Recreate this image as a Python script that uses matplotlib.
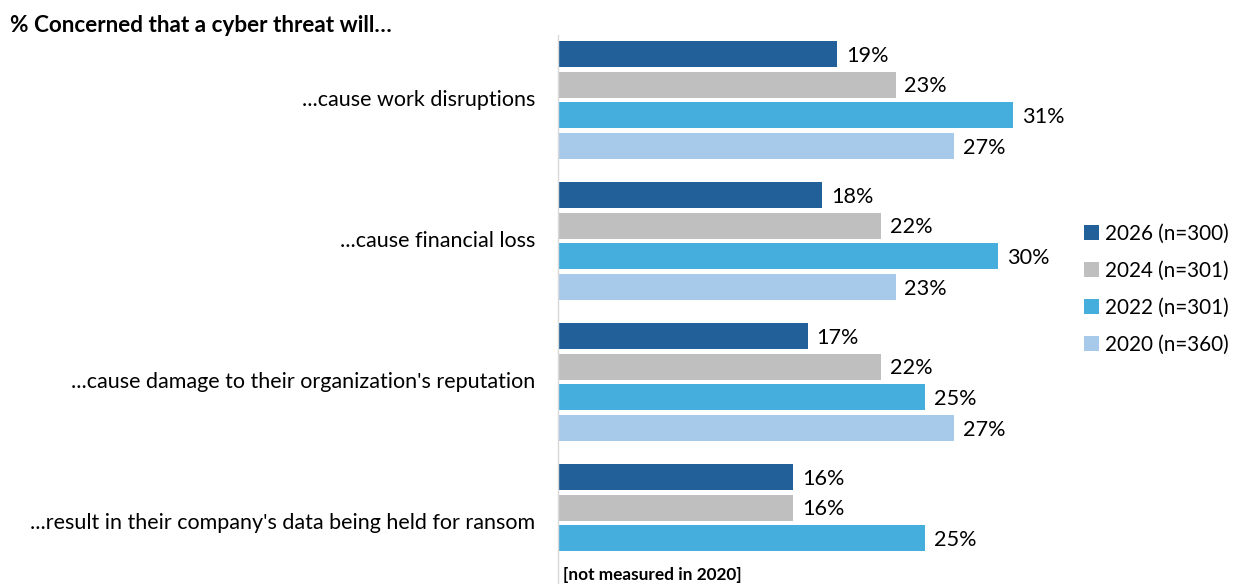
import matplotlib
matplotlib.use("Agg")
import matplotlib.pyplot as plt
from matplotlib.patches import Patch

plt.rcParams['font.family'] = ['Lato', 'DejaVu Sans']

categories = [
    "...cause work disruptions",
    "...cause financial loss",
    "...cause damage to their organization's reputation",
    "...result in their company's data being held for ransom",
]
series_names = ["2026 (n=300)", "2024 (n=301)", "2022 (n=301)", "2020 (n=360)"]
values = {
    "2026 (n=300)": [19, 18, 17, 16],
    "2024 (n=301)": [23, 22, 22, 16],
    "2022 (n=301)": [31, 30, 25, 25],
    "2020 (n=360)": [27, 23, 27, None],
}
colors = ["#22609A", "#BFBFBF", "#45AEDD", "#A8CAEA"]
title = "% Concerned that a cyber threat will…"
note = "[not measured in 2020]"

W, H = 1237, 584
fig = plt.figure(figsize=(W / 100, H / 100), dpi=100)

# bar slot geometry (in slot units)
slot_px = 30.7
group_step = 141 / slot_px
first_center_px = 54
x_left_px = 558
px_per_pct = 14.68
xmax = 35
ax_top_px = 35

ax_w = xmax * px_per_pct
ax = fig.add_axes([x_left_px / W, 0, ax_w / W, (H - ax_top_px) / H])
y_top = (ax_top_px - first_center_px) / slot_px
y_bot = (H - first_center_px) / slot_px
ax.set_ylim(y_bot, y_top)
ax.set_xlim(0, xmax)

for si, name in enumerate(series_names):
    for gi, v in enumerate(values[name]):
        y = gi * group_step + si
        if v is None:
            ax.text(0.35, y + 0.2, note, fontsize=12.4, fontweight='bold',
                    va='center', ha='left', color='black')
            continue
        ax.barh(y, v, height=0.85, color=colors[si], edgecolor='none')
        ax.text(v + 0.6, y + 0.05, f"{v}%", fontsize=15.6, va='center',
                ha='left', color='black')

for gi, cat in enumerate(categories):
    ax.text(-1.55, gi * group_step + 1.5, cat, fontsize=15.5, va='center',
            ha='right', color='black')

for s in ["top", "right", "bottom"]:
    ax.spines[s].set_visible(False)
ax.spines["left"].set_color("#D9D9D9")
ax.spines["left"].set_linewidth(1.0)
ax.set_xticks([])
ax.set_yticks([])

fig.text(10 / W, 1 - 25 / H, title, fontsize=16.2, fontweight='bold',
         va='center', ha='left')

handles = [Patch(facecolor=c, edgecolor='none') for c in colors]
fig.legend(handles, series_names, loc='center left',
           bbox_to_anchor=(1076 / W, 1 - 289 / H), frameon=False,
           fontsize=14.9, handlelength=0.72, handleheight=0.72,
           handletextpad=0.3, labelspacing=0.82, borderaxespad=0)

fig.savefig("out.png", dpi=100)
